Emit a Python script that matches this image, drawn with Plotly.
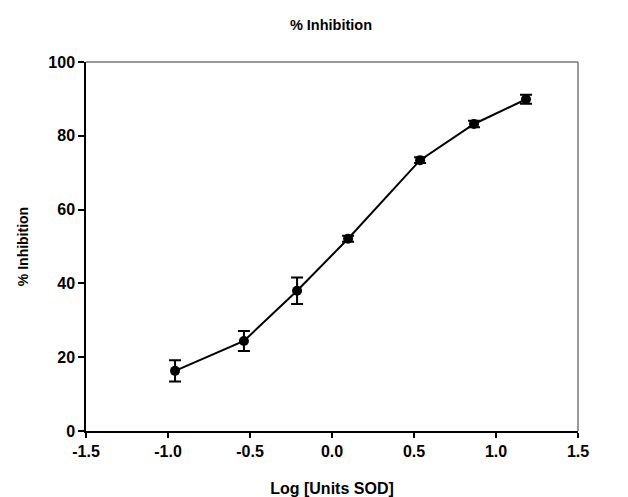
import plotly.graph_objects as go

log_units = [-0.957, -0.537, -0.213, 0.098, 0.537, 0.866, 1.183]
inhibition = [16.3, 24.4, 38.0, 52.1, 73.4, 83.2, 89.9]
error = [2.9, 2.7, 3.6, 0.8, 0.8, 0.9, 1.2]

x_ticks = [-1.5, -1.0, -0.5, 0.0, 0.5, 1.0, 1.5]
x_tick_labels = ["-1.5", "-1.0", "-0.5", "0.0", "0.5", "1.0", "1.5"]
y_ticks = [0, 20, 40, 60, 80, 100]

FONT = "Liberation Sans, Arial, sans-serif"

# page body has an 8px default margin, so the figure is sized to fit the window
W, H = 620, 489

fig = go.Figure()
fig.add_trace(go.Scatter(
    x=log_units, y=inhibition,
    mode="lines+markers",
    line=dict(color="black", width=2),
    marker=dict(color="black", size=10, symbol="circle"),
    error_y=dict(type="data", array=error, visible=True, color="black",
                 thickness=2, width=6),
    showlegend=False,
))

fig.update_layout(
    width=W, height=H,
    margin=dict(l=78, r=50, t=54, b=66, autoexpand=False),
    paper_bgcolor="white", plot_bgcolor="white",
    font=dict(family=FONT, color="black"),
    title=dict(text="<b>% Inhibition</b>", x=(331 - 8) / W, xanchor="center",
               y=1 - 17 / H, yanchor="middle", yref="container",
               font=dict(size=14.5, family=FONT, color="black")),
    xaxis=dict(
        range=[-1.5, 1.5], tickmode="array", tickvals=x_ticks, ticktext=x_tick_labels,
        showgrid=False, zeroline=False, showline=True, linecolor="black", linewidth=1.5,
        ticks="outside", ticklen=5, tickcolor="black", tickwidth=1.5,
        tickfont=dict(size=16, family=FONT, color="black", weight="bold"),
        title=dict(text="<b>Log [Units SOD]</b>", standoff=26,
                   font=dict(size=16, family=FONT, color="black")),
    ),
    yaxis=dict(
        range=[0, 100], tickmode="array", tickvals=y_ticks,
        showgrid=False, zeroline=False, showline=True, linecolor="black", linewidth=1.5,
        ticks="outside", ticklen=6, tickcolor="black", tickwidth=1.5,
        tickfont=dict(size=16, family=FONT, color="black", weight="bold"),
        title=dict(text="<b>% Inhibition</b>", standoff=16,
                   font=dict(size=14, family=FONT, color="black")),
    ),
)

fig.add_shape(type="line", xref="paper", yref="paper", x0=0, x1=1, y0=1, y1=1,
              line=dict(color="#777777", width=1.5))
fig.add_shape(type="line", xref="paper", yref="paper", x0=1, x1=1, y0=0, y1=1,
              line=dict(color="#777777", width=1.5))

fig.write_html("out.html")
